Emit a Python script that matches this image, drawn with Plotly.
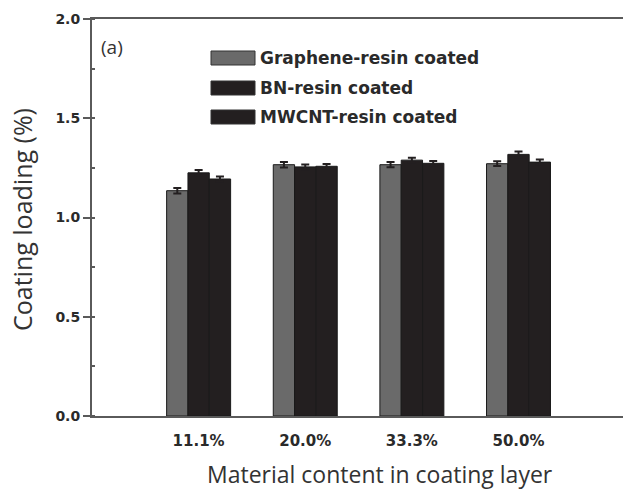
import plotly.graph_objects as go

categories = ["11.1%", "20.0%", "33.3%", "50.0%"]
series_names = ["Graphene-resin coated", "BN-resin coated", "MWCNT-resin coated"]
graphene = [1.135, 1.266, 1.266, 1.271]
bn = [1.225, 1.255, 1.289, 1.318]
mwcnt = [1.194, 1.258, 1.273, 1.279]
graphene_err = [0.014, 0.014, 0.013, 0.012]
bn_err = [0.014, 0.012, 0.012, 0.014]
mwcnt_err = [0.013, 0.012, 0.012, 0.013]
y_ticks = [0.0, 0.5, 1.0, 1.5, 2.0]

colors = ["#6a6a6a", "#231f20", "#231f20"]
W, H = 623, 494
L, R, T, B = 92, 0, 19, 78
PW, PH = W - L - R, H - T - B


def px(x):
    return (x - L) / PW


def py(y):
    return (H - B - y) / PH


fig = go.Figure()
for name, vals, errs, col in zip(series_names, [graphene, bn, mwcnt],
                                 [graphene_err, bn_err, mwcnt_err], colors):
    fig.add_trace(go.Bar(
        x=categories, y=vals, name=name,
        marker=dict(color=col, line=dict(color="#1a1a1a", width=1)),
        error_y=dict(type="data", array=errs, color="#231f20",
                     thickness=2, width=4),
        showlegend=False,
    ))

# custom legend (wide boxes like the original)
shapes = []
annotations = []
for i, (name, col) in enumerate(zip(series_names, colors)):
    cy = [58, 88, 117][i]
    shapes.append(dict(type="rect", xref="paper", yref="paper",
                       x0=px(211), x1=px(255), y0=py(cy + 7), y1=py(cy - 7),
                       fillcolor=col, line=dict(color="#333333", width=1)))
    annotations.append(dict(xref="paper", yref="paper", x=px(258), y=py(cy),
                            text=name, showarrow=False, xanchor="left",
                            yanchor="middle",
                            font=dict(family="DejaVu Sans", size=17,
                                      color="#2a2a2a", weight="bold")))

annotations.append(dict(xref="paper", yref="paper", x=px(99), y=py(47),
                        text="(a)", showarrow=False, xanchor="left",
                        yanchor="middle",
                        font=dict(family="Open Sans", size=19, color="#333333")))
annotations.append(dict(xref="paper", yref="paper", x=px(380), y=py(474),
                        text="Material content in coating layer",
                        showarrow=False, xanchor="center", yanchor="middle",
                        font=dict(family="Open Sans", size=23, color="#333333")))
annotations.append(dict(xref="paper", yref="paper", x=px(22), y=py(220),
                        text="Coating loading (%)", textangle=-90,
                        showarrow=False, xanchor="center", yanchor="middle",
                        font=dict(family="Open Sans", size=25, color="#333333")))

fig.update_layout(
    width=W, height=H,
    showlegend=False,
    margin=dict(l=L, r=R, t=T, b=B, pad=0),
    paper_bgcolor="white", plot_bgcolor="white",
    barmode="group", bargap=0.4, bargroupgap=0,
    shapes=shapes, annotations=annotations,
    xaxis=dict(range=[-1, 3.98], showline=True, linecolor="#5a5a5a",
               linewidth=2, mirror=True, ticks="", showgrid=False,
               tickfont=dict(family="DejaVu Sans", size=15, color="#2a2a2a",
                             weight="bold"),
               ticklabelstandoff=10),
    yaxis=dict(range=[0, 2], tickvals=y_ticks, tickformat=".1f",
               showline=True, linecolor="#5a5a5a", linewidth=2,
               ticks="outside", ticklen=7, tickwidth=2, tickcolor="#5a5a5a",
               showgrid=False, zeroline=False,
               minor=dict(dtick=0.25, ticks="inside", ticklen=3,
                          tickwidth=2, tickcolor="#5a5a5a", showgrid=False),
               tickfont=dict(family="DejaVu Sans", size=14, color="#2a2a2a",
                             weight="bold")),
)

fig.write_html(
    "out.html",
    config={"displayModeBar": False},
    post_script="document.body.style.margin='0';"
                "document.body.style.overflow='hidden';",
)
